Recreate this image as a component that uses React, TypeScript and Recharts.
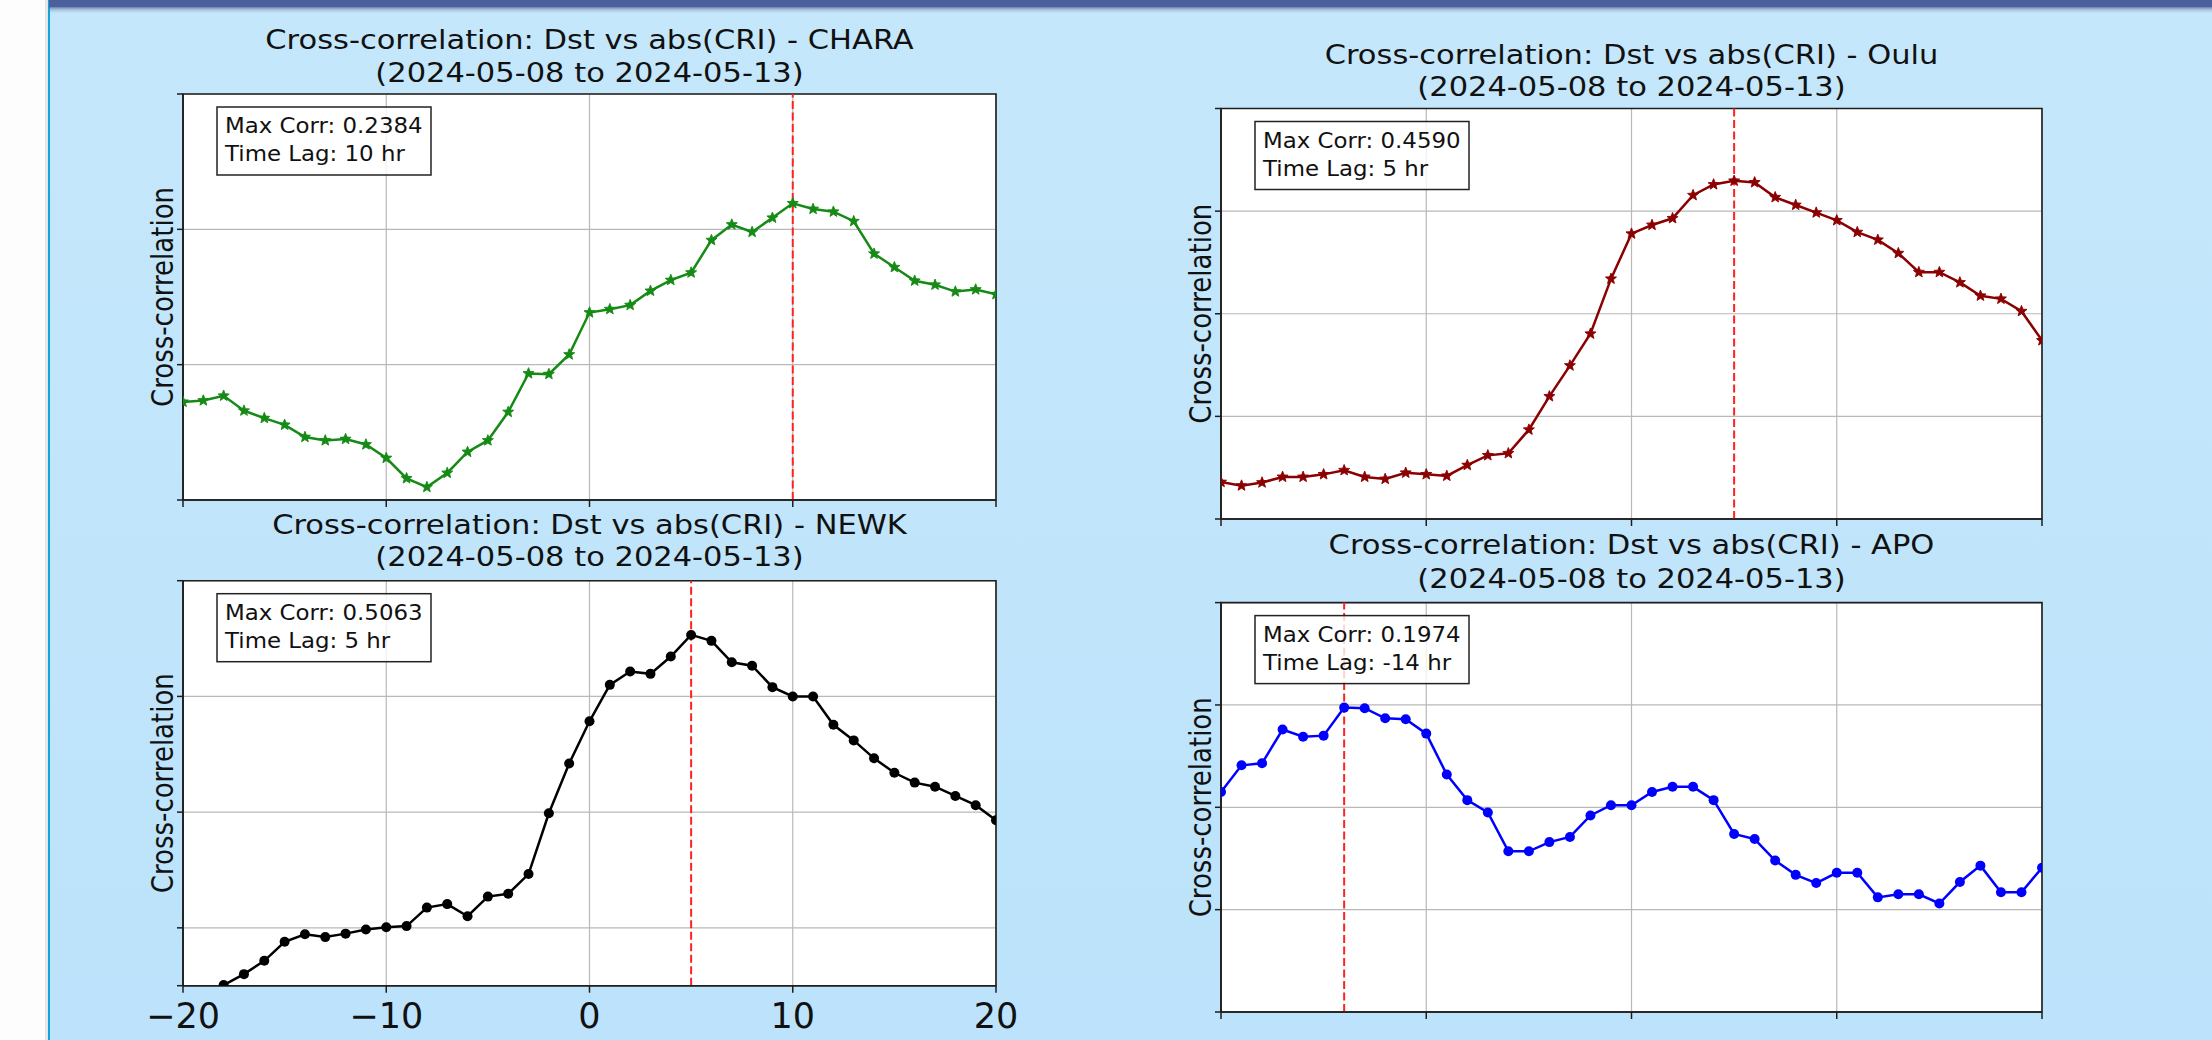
import { LineChart, Line, XAxis, YAxis, CartesianGrid, ReferenceLine, ReferenceArea } from 'recharts'

const W = 2212
const H = 1040

// time lag in hours
const lags = [
  -20, -19, -18, -17, -16, -15, -14, -13, -12, -11, -10, -9, -8, -7, -6, -5, -4, -3, -2, -1,
  0, 1, 2, 3, 4, 5, 6, 7, 8, 9, 10, 11, 12, 13, 14, 15, 16, 17, 18, 19, 20,
]

const charaCorr = [
  -0.055, -0.053, -0.046, -0.068, -0.079, -0.089, -0.107, -0.112, -0.11, -0.118, -0.138, -0.168,
  -0.181, -0.16, -0.129, -0.112, -0.07, -0.013, -0.014, 0.015, 0.077, 0.082, 0.088, 0.109, 0.125,
  0.136, 0.184, 0.207, 0.196, 0.217, 0.2384, 0.23, 0.226, 0.212, 0.164, 0.144, 0.124, 0.118, 0.108,
  0.111, 0.104,
]
const ouluCorr = [
  -0.128, -0.135, -0.129, -0.118, -0.118, -0.113, -0.105, -0.118, -0.122, -0.11, -0.113, -0.116,
  -0.095, -0.076, -0.072, -0.026, 0.039, 0.099, 0.161, 0.268, 0.356, 0.373, 0.386, 0.431, 0.452,
  0.459, 0.456, 0.427, 0.412, 0.397, 0.382, 0.359, 0.344, 0.318, 0.281, 0.281, 0.261, 0.235, 0.229,
  0.205, 0.148,
]
const newkCorr = [
  -0.14, -0.12, -0.099, -0.08, -0.057, -0.024, -0.011, -0.016, -0.01, -0.003, 0.001, 0.003, 0.035,
  0.041, 0.02, 0.054, 0.059, 0.093, 0.198, 0.284, 0.357, 0.42, 0.443, 0.439, 0.469, 0.5063, 0.496,
  0.459, 0.453, 0.416, 0.4, 0.4, 0.351, 0.324, 0.293, 0.268, 0.251, 0.244, 0.228, 0.212, 0.186,
]
const apoCorr = [
  0.115, 0.141, 0.143, 0.176, 0.169, 0.17, 0.1974, 0.1968, 0.187, 0.186, 0.172, 0.132, 0.107, 0.095,
  0.057, 0.057, 0.066, 0.071, 0.092, 0.102, 0.102, 0.115, 0.12, 0.12, 0.107, 0.074, 0.069, 0.048,
  0.034, 0.026, 0.036, 0.036, 0.012, 0.015, 0.015, 0.006, 0.027, 0.043, 0.017, 0.017, 0.041,
]

const xTicks = [-20, -10, 0, 10, 20]
const charaTicks = [-0.2, 0, 0.2, 0.4]
const ouluTicks = [-0.2, 0, 0.2, 0.4, 0.6]
const newkTicks = [-0.1, 0, 0.2, 0.4, 0.6]
const apoTicks = [-0.1, 0, 0.1, 0.2, 0.3]

const stations = ['CHARA', 'Oulu', 'NEWK', 'APO']
const maxCorr = ['0.2384', '0.4590', '0.5063', '0.1974']
const bestLag = [10, 5, 5, -14]
const period = '(2024-05-08 to 2024-05-13)'

const toRows = (vals: number[]) => lags.map((lag, i) => ({ lag, corr: vals[i] }))

function starPoints(cx: number, cy: number, R: number, r: number) {
  const pts: string[] = []
  for (let i = 0; i < 10; i++) {
    const a = -Math.PI / 2 + (i * Math.PI) / 5
    const rad = i % 2 === 0 ? R : r
    pts.push(`${cx + rad * Math.cos(a)},${cy + rad * Math.sin(a)}`)
  }
  return pts.join(' ')
}

const starDot = (color: string) => (p: any) => (
  <polygon key={`s${p.index}`} points={starPoints(p.cx, p.cy, 5.8, 2.5)} fill={color} stroke={color} strokeWidth={0.9} />
)
const circleDot = (color: string) => (p: any) => (
  <circle key={`c${p.index}`} cx={p.cx} cy={p.cy} r={5} fill={color} />
)

// hidden tick labels (matplotlib labels switched off), tick marks stay
const noLabel = () => <g />

const renderXTick = (p: any) => {
  const v = p.payload.value
  const label = v < 0 ? `\u2212${-v}` : `${v}`
  return (
    <text x={p.x} y={1028} textAnchor="middle" fontSize={35} fill="#111" fontFamily="DejaVu Sans">
      {label}
    </text>
  )
}

// plot boxes: left, top, right, bottom (page px)
const panels = [
  { data: toRows(charaCorr), color: '#158a15', dot: starDot('#158a15'), domain: [-0.2, 0.4], ticks: charaTicks, box: [183, 94, 996, 500], titleY: [49, 82], showX: false },
  { data: toRows(ouluCorr), color: '#8b0000', dot: starDot('#8b0000'), domain: [-0.2, 0.6], ticks: ouluTicks, box: [1221, 108.5, 2042, 519], titleY: [63.5, 96], showX: false },
  { data: toRows(newkCorr), color: '#000000', dot: circleDot('#000000'), domain: [-0.1, 0.6], ticks: newkTicks, box: [183, 580.7, 996, 985.7], titleY: [534, 566], showX: true },
  { data: toRows(apoCorr), color: '#0000ff', dot: circleDot('#0000ff'), domain: [-0.1, 0.3], ticks: apoTicks, box: [1221, 602.6, 2042, 1012], titleY: [554, 587.5], showX: false },
]

const spine = '#1e1e1e'

function Panel({ p, lag }: { p: any; lag: number }) {
  const [l, t, r, b] = p.box
  return (
    <div style={{ position: 'absolute', left: 0, top: 0 }}>
      <LineChart width={W} height={H} data={p.data} margin={{ left: l - 2, top: t, right: W - r, bottom: H - b - 2 }}>
        <CartesianGrid fill="#ffffff" stroke="#b9b9b9" strokeWidth={1.2} />
        <XAxis
          type="number"
          dataKey="lag"
          domain={[-20, 20]}
          ticks={xTicks}
          interval={0}
          allowDataOverflow
          height={2}
          tickSize={7}
          tickLine={{ stroke: spine, strokeWidth: 1.5 }}
          axisLine={{ stroke: spine, strokeWidth: 1.6 }}
          tick={p.showX ? renderXTick : noLabel}
        />
        <YAxis
          type="number"
          domain={p.domain}
          ticks={p.ticks}
          interval={0}
          allowDataOverflow
          width={2}
          tickSize={6}
          tickLine={{ stroke: spine, strokeWidth: 1.5 }}
          axisLine={{ stroke: spine, strokeWidth: 1.6 }}
          tick={noLabel}
        />
        <Line dataKey="corr" stroke={p.color} strokeWidth={2.5} dot={p.dot} isAnimationActive={false} />
        <ReferenceLine x={lag} stroke="#ff2222" strokeWidth={2} strokeDasharray="8 3.5" />
        <ReferenceArea x1={-20} x2={20} y1={p.domain[0]} y2={p.domain[1]} fill="none" fillOpacity={0} stroke={spine} strokeWidth={1.6} />
      </LineChart>
    </div>
  )
}

export default function App() {
  return (
    <div style={{ position: 'absolute', left: 0, top: 0, width: W, height: H, overflow: 'hidden', fontFamily: 'DejaVu Sans' }}>
      <svg width={W} height={H} style={{ position: 'absolute', left: 0, top: 0 }}>
        <defs>
          <linearGradient id="bg" x1="0" y1="0" x2="0" y2="1">
            <stop offset="0" stopColor="#c5e7fb" />
            <stop offset="1" stopColor="#bce3fb" />
          </linearGradient>
          <linearGradient id="shade" x1="0" y1="0" x2="0" y2="1">
            <stop offset="0" stopColor="#7f90b8" />
            <stop offset="1" stopColor="#c5e7fb" stopOpacity={0} />
          </linearGradient>
        </defs>
        <rect x={0} y={0} width={W} height={H} fill="url(#bg)" />
        <rect x={0} y={0} width={47} height={H} fill="#fdfdfd" />
        <rect x={45} y={0} width={3} height={H} fill="#e6e6e6" />
        <rect x={48} y={0} width={2} height={H} fill="#14a3da" />
        <rect x={50} y={7.5} width={W - 50} height={7} fill="url(#shade)" />
        <rect x={49} y={0} width={W - 49} height={7.5} fill="#4b5f9c" />
      </svg>

      {panels.map((p, i) => (
        <Panel key={stations[i]} p={p} lag={bestLag[i]} />
      ))}

      <svg width={W} height={H} style={{ position: 'absolute', left: 0, top: 0 }} fontFamily="DejaVu Sans">
        {panels.map((p, i) => {
          const [l, t, r, b] = p.box
          const cx = (l + r) / 2
          const cy = (t + b) / 2
          const bx = l + 34
          const by = t + 13
          return (
            <g key={stations[i]}>
              <text transform={`translate(${cx},${p.titleY[0]}) scale(1.13,1)`} textAnchor="middle" fontSize={27} fill="#111">
                {`Cross-correlation: Dst vs abs(CRI) - ${stations[i]}`}
              </text>
              <text transform={`translate(${cx},${p.titleY[1]}) scale(1.13,1)`} textAnchor="middle" fontSize={27} fill="#111">
                {period}
              </text>
              <text transform={`translate(${l - 10.5},${cy}) rotate(-90) scale(1,1.15)`} textAnchor="middle" fontSize={26} fill="#111">
                Cross-correlation
              </text>
              <rect x={bx} y={by} width={214} height={68} fill="#ffffff" fillOpacity={0.8} stroke="#222" strokeWidth={1.5} />
              <text transform={`translate(${bx + 8},${by + 26}) scale(1.09,1)`} fontSize={21} fill="#111">
                {`Max Corr: ${maxCorr[i]}`}
              </text>
              <text transform={`translate(${bx + 8},${by + 54}) scale(1.09,1)`} fontSize={21} fill="#111">
                {`Time Lag: ${bestLag[i]} hr`}
              </text>
            </g>
          )
        })}
      </svg>
    </div>
  )
}
